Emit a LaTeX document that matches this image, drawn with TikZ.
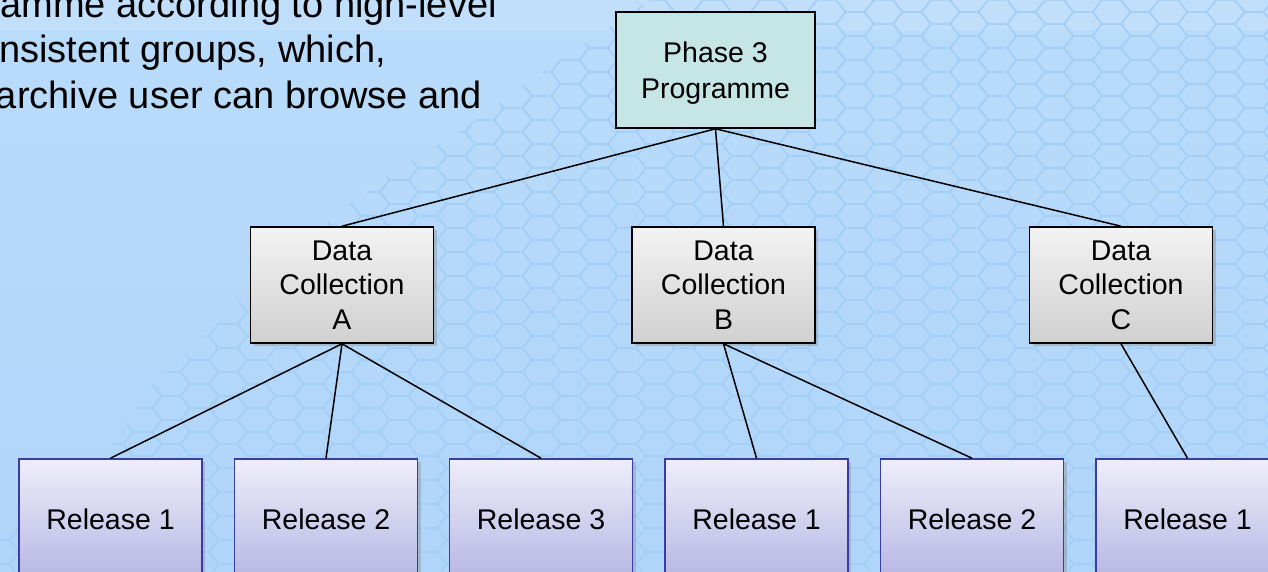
\documentclass[tikz,border=0pt]{standalone}
\usepackage{fontspec}
\setmainfont{Liberation Sans}
\usetikzlibrary{shadows}
\definecolor{bgtop}{RGB}{186,220,251}
\definecolor{bgbot}{RGB}{176,213,250}
\definecolor{bandc}{RGB}{193,222,250}
\definecolor{hexc}{RGB}{163,206,245}
\definecolor{phasefill}{RGB}{198,230,230}
\definecolor{dctop}{RGB}{243,243,243}
\definecolor{dcbot}{RGB}{208,208,208}
\definecolor{reltop}{RGB}{238,238,250}
\definecolor{relbot}{RGB}{182,182,228}
\definecolor{relborder}{RGB}{60,60,160}
\tikzset{
  boxfont/.style={font=\fontsize{28.5}{34.5}\selectfont},
  phasebox/.style={font=\fontsize{28.5}{36}\selectfont, rectangle, draw=black, line width=1.6pt, fill=phasefill,
    minimum width=199pt, minimum height=116pt, inner sep=0pt, align=center, text depth=0pt},
  dcbox/.style={boxfont, rectangle, draw=black, line width=1.6pt, top color=dctop, bottom color=dcbot,
    minimum width=183pt, minimum height=116pt, inner sep=0pt, align=center,
    drop shadow={opacity=0.35, shadow xshift=3pt, shadow yshift=-3pt}},
  relbox/.style={boxfont, rectangle, draw=relborder, line width=1.6pt, top color=reltop, bottom color=relbot,
    minimum width=183pt, minimum height=120pt, inner sep=0pt, align=center,
    drop shadow={opacity=0.35, shadow xshift=3pt, shadow yshift=-3pt}},
  conn/.style={draw=black, line width=1.5pt},
  bodytext/.style={font=\fontsize{38}{46}\selectfont, anchor=base east, inner sep=0pt}
}
\begin{document}
\begin{tikzpicture}[x=1pt,y=-1pt]
\useasboundingbox (0,0) rectangle (1268,571);
\clip (0,0) rectangle (1268,571);
% background
\shade[top color=bgtop, bottom color=bgbot] (0,0) rectangle (1268,571);
\fill[bandc] (0,0) rectangle (1268,30);
% honeycomb texture
\begin{scope}
  \clip (0,571) -- (0,540) -- (84,487) -- (150,388) -- (246,296) -- (319,228) -- (396,170) -- (461,131) -- (560,60) -- (650,0) -- (1268,0) -- (1268,571) -- cycle;
  \foreach \i in {0,...,46}{
    \foreach \j in {0,...,25}{
      \pgfmathsetmacro{\cx}{\i*28.5}
      \pgfmathsetmacro{\cy}{\j*24+mod(\i,2)*12}
      \draw[hexc, line width=1.4pt] (\cx+19,\cy) -- (\cx+9.5,\cy+12) -- (\cx-9.5,\cy+12) -- (\cx-19,\cy) -- (\cx-9.5,\cy-12) -- (\cx+9.5,\cy-12) -- cycle;
    }
  }
\end{scope}
% cut-off body text
\node[bodytext] (t1) at (497,17) {amme according to high-level};
\node[bodytext] (t2) at (386,62) {nsistent groups, which,};
\node[bodytext] (t3) at (482,108) {archive user can browse and};
% nodes
\node[phasebox] (P) at (715.5,70) {Phase 3\\Programme};
\node[dcbox] (A) at (342,285) {Data\\Collection\\A};
\node[dcbox] (B) at (723.5,285) {Data\\Collection\\B};
\node[dcbox] (C) at (1121,285) {Data\\Collection\\C};
\node[relbox] (A1) at (110.5,519) {Release 1};
\node[relbox] (A2) at (326,519) {Release 2};
\node[relbox] (A3) at (541,519) {Release 3};
\node[relbox] (B1) at (756.5,519) {Release 1};
\node[relbox] (B2) at (972,519) {Release 2};
\node[relbox] (C1) at (1187.5,519) {Release 1};
% connectors
\draw[conn] (P.south) -- (A.north);
\draw[conn] (P.south) -- (B.north);
\draw[conn] (P.south) -- (C.north);
\draw[conn] (A.south) -- (A1.north);
\draw[conn] (A.south) -- (A2.north);
\draw[conn] (A.south) -- (A3.north);
\draw[conn] (B.south) -- (B1.north);
\draw[conn] (B.south) -- (B2.north);
\draw[conn] (C.south) -- (C1.north);
\end{tikzpicture}
\end{document}
